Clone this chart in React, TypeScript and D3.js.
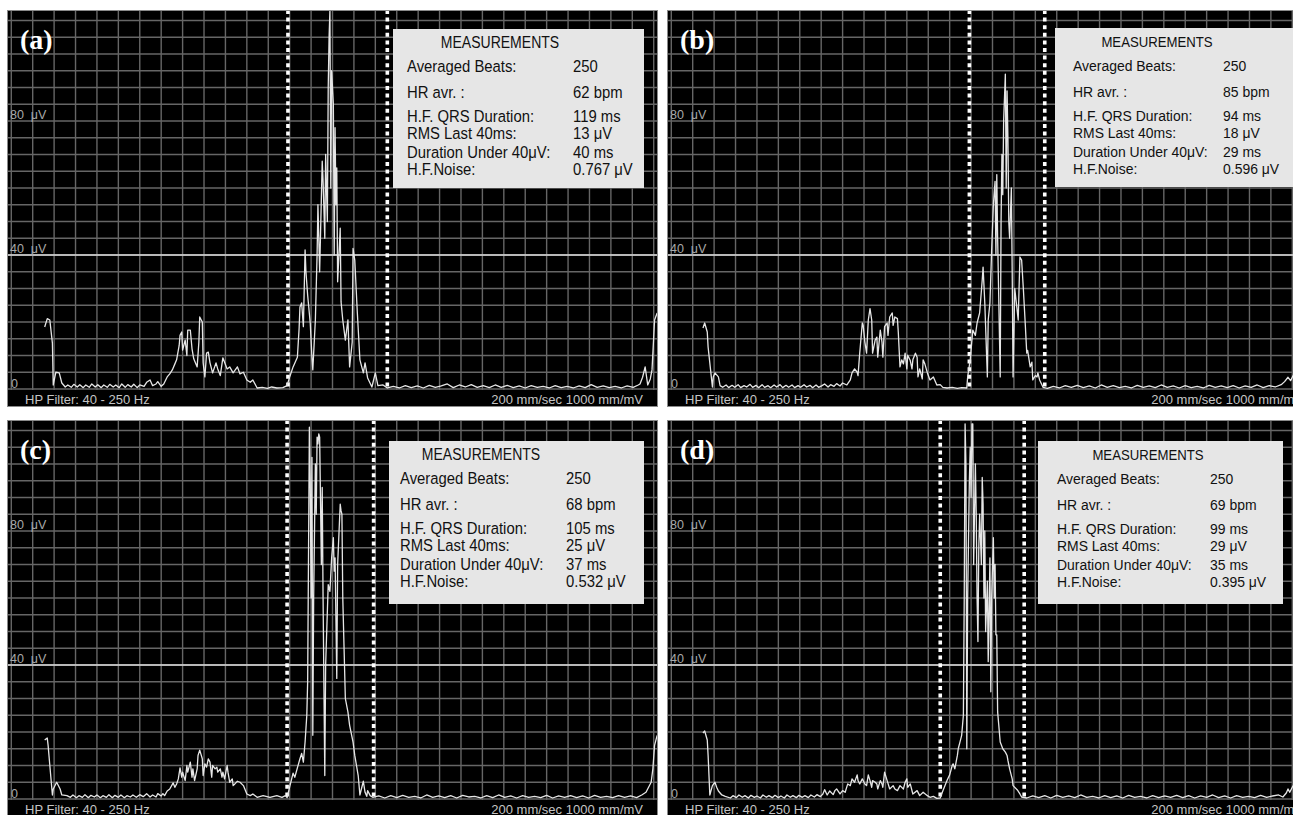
import React from "react";
import * as d3 from "d3";

// signal-averaged ECG, filtered QRS vector magnitude: [time ms, amplitude µV]
const traceA: [number, number][] = [
  [44, 18.5], [47, 21], [50, 20.6], [53, 13.7], [54, 1.2], [57, 5], [61, 4.8], [64, 1.8], [68, 0.6],
  [71, 1.2], [75, 0.5], [78, 1.4], [82, 0.6], [85, 1.3], [89, 0.4], [92, 1.2], [96, 0.5], [99, 1.5],
  [103, 0.6], [106, 1.3], [110, 0.4], [113, 1.2], [117, 0.5], [120, 1.4], [124, 0.6], [127, 1.2],
  [131, 0.4], [134, 1.5], [138, 0.5], [141, 1.3], [145, 0.6], [148, 1.4], [152, 0.4], [155, 1.2],
  [160, 0.8], [163, 2.0], [167, 2.7], [170, 1.0], [174, 1.5], [176, 2.2], [180, 0.8], [183, 1.5],
  [187, 3.6], [190, 4.5], [193, 5.7], [196, 7.5], [198, 8.7], [201, 13], [202, 16], [204, 17],
  [205, 11.6], [208, 14.6], [210, 10], [211, 17.6], [214, 17.6], [216, 12], [218, 9], [222, 6.6],
  [224, 14], [225, 21.5], [228, 20], [229, 7.8], [231, 3.6], [233, 10.7], [235, 11], [237, 7.8],
  [240, 4.8], [244, 7.8], [246, 6], [249, 4], [252, 9.3], [257, 6], [260, 6.6], [264, 4.8],
  [269, 6.6], [272, 4.5], [276, 5], [280, 2.7], [284, 2], [287, 2.7], [292, 0.3], [298, 0.5],
  [304, 0.2], [309, 0.6], [315, 0.3], [322, 0.4], [327, 1], [330, 3.6], [334, 6.6], [339, 9.5],
  [341, 18], [342, 24.5], [344, 25.7], [346, 18.6], [348, 41.5], [349, 35], [351, 28], [354, 19.7],
  [356, 9.5], [357, 5.7], [360, 20.6], [362, 40], [363, 55], [365, 35], [368, 68], [369, 62],
  [371, 45], [372, 70], [374, 50], [375, 90], [376, 105], [377, 113], [378, 60], [379, 95],
  [381, 85], [382, 40], [383, 78], [384, 55], [385, 66], [386, 32], [389, 48], [390, 26],
  [392, 20.6], [395, 14.6], [398, 20.6], [400, 6.6], [403, 14], [404, 42], [406, 38.5], [409, 22.7],
  [412, 8.7], [416, 4.8], [418, 7.8], [421, 3.3], [426, 0.6], [430, 4.8], [433, 1], [439, 1.2],
  [444, 0.3], [451, 0.8], [458, 0.3], [465, 1.0], [472, 0.4], [479, 0.9], [486, 0.3], [493, 1.1],
  [500, 0.5], [507, 0.9], [514, 1.5], [521, 0.4], [528, 1.2], [535, 0.6], [542, 1.3], [549, 0.5],
  [556, 1.0], [563, 0.4], [570, 1.2], [577, 0.5], [584, 1.1], [591, 0.4], [598, 0.9], [605, 0.3],
  [612, 1.0], [619, 0.5], [626, 0.8], [633, 0.3], [640, 1.0], [647, 0.4], [654, 0.8], [661, 0.3],
  [668, 0.9], [675, 0.4], [682, 1.3], [689, 0.5], [696, 0.9], [703, 0.4], [710, 0.8], [717, 0.3],
  [724, 0.9], [731, 0.5], [737, 1.2], [739, 1.5], [742, 3.5], [745, 6.6], [748, 1.2], [751, 3],
  [753, 5.7], [756, 20.6], [759, 22.7],
];

const traceB: [number, number][] = [
  [42, 18.2], [44, 19.7], [47, 17], [48, 12.5], [53, 0.6], [54, 3.6], [56, 4.8], [60, 3.6], [62, 1],
  [65, 0.5], [69, 1.2], [72, 0.4], [76, 1.1], [79, 0.5], [83, 1.3], [86, 0.4], [90, 1.0], [93, 0.6],
  [97, 1.4], [100, 0.5], [104, 1.1], [107, 0.4], [111, 1.3], [114, 0.5], [118, 1.0], [121, 0.4],
  [125, 1.2], [128, 0.6], [132, 1.3], [135, 0.4], [139, 1.1], [142, 0.5], [146, 1.2], [149, 0.4],
  [153, 1.0], [156, 0.5], [160, 1.3], [163, 0.6], [167, 1.1], [170, 0.4], [174, 1.2], [177, 0.5],
  [181, 1.0], [184, 1.5], [188, 0.6], [191, 1.3], [195, 0.8], [198, 1.6], [202, 0.9], [205, 1.8],
  [210, 1.2], [214, 2.7], [216, 4.8], [219, 6], [222, 5], [223, 4], [225, 10.7], [228, 19.7],
  [229, 19], [231, 14], [233, 10.7], [235, 20.6], [237, 24], [239, 20.6], [240, 10.7], [243, 14.6],
  [245, 15.5], [246, 9.5], [249, 17.6], [251, 14], [252, 9.5], [254, 18.6], [257, 19.7], [258, 16],
  [260, 21.5], [263, 22.7], [264, 19], [266, 21.5], [269, 21], [270, 17], [272, 6.6], [274, 8.7],
  [276, 7.5], [278, 10.7], [280, 6], [281, 10.1], [284, 8.5], [286, 6], [287, 8.7], [290, 10.7],
  [292, 9.5], [293, 3.6], [295, 6], [298, 3], [299, 8.7], [301, 7.5], [304, 4.8], [307, 2.7],
  [311, 3.6], [315, 1.2], [319, 1.3], [322, 0.5], [327, 0.3], [333, 0.5], [339, 0.2], [344, 0.4],
  [350, 0.3], [351, 3.6], [354, 8.7], [357, 17.6], [360, 16], [362, 19.7], [365, 22.7], [368, 32.5],
  [369, 36.4], [371, 25.7], [374, 3.6], [375, 20.6], [377, 25.7], [379, 41.5], [381, 55], [383, 62],
  [384, 40], [385, 64], [386, 45], [389, 3.6], [390, 50], [391, 70], [392, 58], [393, 80], [395, 94],
  [396, 60], [397, 89], [398, 75], [399, 50], [400, 45], [402, 60], [403, 35], [404, 3.6], [406, 30],
  [410, 20.6], [412, 39.4], [414, 38.5], [416, 30], [418, 20.6], [420, 10.7], [421, 11.5], [424, 6.6],
  [426, 8], [427, 2.7], [430, 4], [432, 3.6], [433, 4.8], [435, 2.7], [439, 0.5], [444, 0.2],
  [451, 0.8], [458, 0.3], [465, 1.0], [472, 0.5], [479, 1.1], [486, 0.4], [493, 0.9], [500, 0.3],
  [507, 1.2], [514, 0.5], [521, 1.0], [528, 0.4], [535, 0.8], [542, 0.3], [549, 1.1], [556, 0.5],
  [563, 0.9], [570, 0.4], [577, 1.2], [584, 0.5], [591, 0.9], [598, 0.3], [605, 1.0], [612, 0.4],
  [619, 0.8], [626, 0.3], [633, 1.1], [640, 0.5], [647, 0.9], [654, 0.4], [661, 1.0], [668, 0.3],
  [675, 0.9], [682, 0.5], [689, 1.2], [696, 0.4], [703, 1.0], [710, 0.6], [717, 1.3], [721, 2.2],
  [725, 3.5], [728, 2.5], [732, 4.5],
];

const traceC: [number, number][] = [
  [44, 17.6], [47, 18.2], [48, 16], [50, 10], [53, 1.2], [54, 3], [58, 5], [62, 3], [64, 1.2],
  [70, 1], [74, 0.5], [77, 1.2], [81, 0.4], [84, 1.0], [88, 0.5], [91, 1.3], [95, 0.4], [98, 1.1],
  [102, 0.6], [105, 1.2], [109, 0.4], [112, 1.0], [116, 0.5], [119, 1.3], [123, 0.4], [126, 1.1],
  [130, 0.5], [133, 1.2], [137, 0.4], [140, 1.0], [144, 0.6], [147, 1.2], [151, 0.5], [155, 1.3],
  [159, 0.7], [163, 1.6], [167, 0.6], [170, 1.2], [174, 0.6], [176, 1.6], [180, 0.9], [182, 1.6],
  [184, 1.0], [187, 2.4], [190, 3], [194, 4.8], [196, 3.5], [198, 4.5], [200, 6], [202, 9.3],
  [204, 6.5], [205, 8], [208, 5.5], [210, 10], [211, 8], [214, 11], [216, 6.5], [217, 9], [219, 5.5],
  [222, 9], [223, 13], [225, 14.6], [228, 12], [229, 7], [231, 10.5], [233, 9.5], [235, 12],
  [237, 11], [239, 6.5], [240, 10], [243, 9], [245, 9.5], [246, 8], [249, 9], [251, 6.5], [252, 8],
  [254, 6], [257, 10], [258, 8], [260, 5], [263, 6], [264, 4], [266, 4.5], [269, 5.3], [272, 5],
  [276, 4], [280, 1.5], [284, 1.0], [287, 1.5], [292, 0.5], [299, 1.0], [307, 0.5], [315, 1.0],
  [321, 0.5], [325, 1.0], [327, 0.4], [330, 3.6], [334, 7.7], [336, 6.5], [339, 9.3], [342, 12],
  [344, 13.6], [346, 11], [348, 17], [350, 25], [351, 35], [353, 111], [354, 95], [355, 60],
  [356, 102], [357, 19], [358, 60], [360, 100], [361, 85], [362, 108], [363, 106], [364, 109],
  [365, 108], [367, 70], [368, 93], [369, 60], [371, 7], [372, 40], [375, 64], [377, 62], [379, 72],
  [381, 78], [382, 68], [383, 72], [385, 36], [386, 70], [389, 88], [390, 86], [391, 85], [392, 60],
  [395, 30], [398, 26], [400, 22], [404, 17], [406, 13], [410, 7], [412, 1.2], [416, 5.3], [418, 2],
  [420, 0.8], [421, 2.5], [424, 1], [427, 0.5], [434, 0.9], [441, 0.3], [448, 1.0], [455, 0.4],
  [462, 1.1], [469, 0.5], [476, 0.8], [483, 0.3], [490, 1.2], [497, 0.5], [504, 0.9], [511, 0.4],
  [518, 1.0], [525, 0.3], [532, 1.1], [539, 0.6], [546, 0.8], [553, 0.3], [560, 1.0], [567, 0.4],
  [574, 1.2], [581, 0.5], [588, 0.9], [595, 0.3], [602, 1.0], [609, 0.5], [616, 0.8], [623, 0.4],
  [630, 1.1], [637, 0.3], [644, 0.9], [651, 0.5], [658, 1.0], [665, 0.4], [672, 0.9], [679, 0.3],
  [686, 1.1], [693, 0.5], [700, 0.8], [707, 0.4], [714, 1.0], [721, 0.5], [728, 0.9], [735, 0.4],
  [741, 1.2], [746, 2.0], [749, 3.5], [752, 5], [754, 9], [756, 16], [759, 19],
];

const traceD: [number, number][] = [
  [42, 19.7], [44, 20.3], [47, 17.6], [48, 13], [50, 1.2], [53, 4], [56, 5], [58, 3.5], [60, 2.4],
  [64, 1.2], [68, 0.8], [74, 0.3], [77, 1.0], [81, 0.4], [84, 1.2], [88, 0.5], [91, 1.0], [95, 0.3],
  [98, 1.1], [102, 0.5], [105, 0.9], [109, 0.3], [112, 1.2], [116, 0.5], [119, 1.0], [123, 0.4],
  [126, 1.1], [130, 0.4], [133, 0.9], [137, 0.3], [140, 1.2], [144, 0.5], [147, 1.0], [151, 0.4],
  [154, 1.1], [158, 0.5], [161, 1.0], [165, 0.4], [168, 1.2], [172, 0.6], [175, 1.3], [179, 0.7],
  [182, 1.5], [184, 2.8], [187, 1.2], [190, 2.4], [194, 1.3], [196, 2.5], [198, 3], [202, 1.5],
  [205, 2.5], [208, 2], [211, 4.5], [214, 4], [216, 6], [219, 5], [222, 7.2], [223, 5.5], [225, 4.5],
  [228, 6], [229, 5.5], [231, 4.5], [233, 4], [235, 7.2], [237, 5.5], [239, 3.5], [240, 5.5],
  [243, 5], [245, 4.5], [246, 3], [249, 5.5], [251, 4.5], [252, 3.5], [254, 8], [257, 5.5], [260, 3],
  [264, 4], [266, 3], [269, 2.5], [272, 4], [276, 3], [278, 5], [280, 6], [281, 3.5], [284, 4.5],
  [287, 1.5], [292, 2.5], [295, 1], [299, 2], [304, 1], [307, 0.5], [311, 0.8], [315, 0.2],
  [319, 0.3], [322, 2.4], [327, 5.6], [330, 7.2], [333, 10], [334, 10.5], [336, 9], [339, 13],
  [340, 15], [342, 17], [344, 19], [346, 25], [347, 60], [348, 112], [349, 100], [350, 15], [351, 60],
  [353, 95], [354, 105], [355, 90], [356, 112], [357, 112], [358, 70], [360, 100], [361, 85],
  [362, 60], [363, 47], [364, 75], [365, 85], [367, 70], [368, 96], [369, 88], [370, 60], [371, 80],
  [372, 50], [374, 65], [375, 41], [377, 72], [378, 32], [379, 60], [381, 78], [382, 60], [383, 70],
  [384, 49], [385, 49], [386, 26], [389, 17], [392, 15], [395, 14], [397, 13], [398, 11.5], [400, 9],
  [403, 6], [404, 4], [409, 2.7], [412, 1.5], [414, 0.6], [420, 0.3], [427, 0.9], [434, 0.4],
  [441, 1.0], [448, 0.3], [455, 1.1], [462, 0.5], [469, 0.9], [476, 0.4], [483, 1.2], [490, 0.5],
  [497, 0.8], [504, 0.3], [511, 1.0], [518, 0.4], [525, 0.9], [532, 0.3], [539, 1.1], [546, 0.5],
  [553, 0.8], [560, 0.3], [567, 1.0], [574, 0.4], [581, 0.9], [588, 0.5], [595, 1.1], [602, 0.4],
  [609, 1.0], [616, 0.3], [623, 0.9], [630, 0.5], [637, 1.2], [644, 0.4], [651, 0.9], [658, 0.3],
  [665, 1.0], [672, 0.5], [679, 0.8], [686, 0.4], [693, 1.1], [700, 0.5], [707, 0.9], [714, 1.2],
  [719, 0.6], [723, 1.8], [725, 3], [727, 2], [731, 4],
];

// QRS onset / offset markers (ms)
const markersA = [328, 444];
const markersB = [353, 441];
const markersC = [327, 428];
const markersD = [319, 417];

const measureLabels = [
  "Averaged Beats:",
  "HR avr. :",
  "H.F. QRS Duration:",
  "RMS Last 40ms:",
  "Duration Under 40\u03bcV:",
  "H.F.Noise:",
];
const measuresA = ["250", "62 bpm", "119 ms", "13 \u03bcV", "40 ms", "0.767 \u03bcV"];
const measuresB = ["250", "85 bpm", "94 ms", "18 \u03bcV", "29 ms", "0.596 \u03bcV"];
const measuresC = ["250", "68 bpm", "105 ms", "25 \u03bcV", "37 ms", "0.532 \u03bcV"];
const measuresD = ["250", "69 bpm", "99 ms", "29 \u03bcV", "35 ms", "0.395 \u03bcV"];

const W = 651;
const H = 397;
const BASE = 379;

const panels = [
  { key: "a", letter: "(a)", x: 7, y: 10, trace: traceA, markers: markersA, values: measuresA,
    box: { x: 386, y: 19, w: 251, h: 159, title: 493, label: 400, value: 566, fs: 16.5 } },
  { key: "b", letter: "(b)", x: 667, y: 10, trace: traceB, markers: markersB, values: measuresB,
    box: { x: 388, y: 18, w: 250, h: 159, title: 490, label: 406, value: 556, fs: 15.5 } },
  { key: "c", letter: "(c)", x: 7, y: 420, trace: traceC, markers: markersC, values: measuresC,
    box: { x: 382, y: 21, w: 255, h: 163, title: 474, label: 393, value: 559, fs: 16.5 } },
  { key: "d", letter: "(d)", x: 667, y: 420, trace: traceD, markers: markersD, values: measuresD,
    box: { x: 371, y: 21, w: 245, h: 163, title: 481, label: 390, value: 543, fs: 15.5 } },
];

const titleOffset = 18.5;
const rowOffsets = [43, 68.5, 93, 110, 128.5, 145.5];

function Panel({ p }: { p: (typeof panels)[number] }) {
  const xScale = d3.scaleLinear().domain([0, 760]).range([0, W]);
  const yScale = d3.scaleLinear().domain([0, 40]).range([BASE, 245]);
  const line = d3
    .line<[number, number]>()
    .x((d) => xScale(d[0]))
    .y((d) => yScale(d[1]));
  const gridT = d3.range(5, 760, 25);
  const gridV = d3.range(0, 115, 5);
  const b = p.box;
  const clipId = "clip-" + p.key;
  const uiFont = "'Liberation Sans', Arial, sans-serif";

  return (
    <g transform={`translate(${p.x},${p.y})`}>
      <defs>
        <clipPath id={clipId}>
          <rect x={0} y={0} width={W} height={H} />
        </clipPath>
      </defs>
      <g clipPath={`url(#${clipId})`}>
        <rect x={0} y={0} width={W} height={H} fill="#000" />
        {gridT.map((t) => (
          <line key={"t" + t} x1={xScale(t)} x2={xScale(t)} y1={0} y2={BASE + 1}
            stroke="#666" strokeWidth={1.4} />
        ))}
        {gridV.map((v) => (
          <line key={"v" + v} x1={0} x2={W} y1={yScale(v)} y2={yScale(v)}
            stroke="#666" strokeWidth={1.4} />
        ))}
        <line x1={0} x2={W} y1={yScale(40)} y2={yScale(40)} stroke="#dcdcdc" strokeWidth={1.6} />

        <text x={3} y={yScale(80) - 2} fill="#a8a8a8" fontSize={12.5} fontFamily={uiFont}>80 {"\u00a0\u03bcV"}</text>
        <text x={3} y={yScale(40) - 2} fill="#a8a8a8" fontSize={12.5} fontFamily={uiFont}>40 {"\u00a0\u03bcV"}</text>
        <text x={4} y={BASE - 1} fill="#a8a8a8" fontSize={12.5} fontFamily={uiFont}>0</text>

        {p.markers.map((m) => (
          <line key={"m" + m} x1={xScale(m)} x2={xScale(m)} y1={0} y2={BASE}
            stroke="#fff" strokeWidth={3.6} strokeDasharray="4 3.6" />
        ))}

        <path d={line(p.trace) || ""} fill="none" stroke="#e6e6e6" strokeWidth={1.3}
          strokeLinejoin="round" />

        <rect x={0} y={BASE + 2} width={W} height={H - BASE - 2} fill="#000" />
        <text x={18} y={394} fill="#c4c4c4" fontSize={13} fontFamily={uiFont}>HP Filter: 40 - 250 Hz</text>
        <text x={636} y={394} fill="#c4c4c4" fontSize={13} fontFamily={uiFont} textAnchor="end">
          200 mm/sec 1000 mm/mV
        </text>

        <text x={13} y={39} fill="#fff" fontSize={28} fontWeight="bold"
          fontFamily="'Liberation Serif', 'Times New Roman', serif">{p.letter}</text>

        <rect x={b.x} y={b.y} width={b.w} height={b.h} fill="#e6e6e6" />
        <text transform={`translate(${b.title},${b.y + titleOffset}) scale(0.85,1)`}
          fontSize={b.fs} fontFamily={uiFont} fill="#111" textAnchor="middle">MEASUREMENTS</text>
        {measureLabels.map((lab, i) => (
          <g key={lab}>
            <text transform={`translate(${b.label},${b.y + rowOffsets[i]}) scale(0.9,1)`}
              fontSize={b.fs} fontFamily={uiFont} fill="#111">{lab}</text>
            <text transform={`translate(${b.value},${b.y + rowOffsets[i]}) scale(0.9,1)`}
              fontSize={b.fs} fontFamily={uiFont} fill="#111">{p.values[i]}</text>
          </g>
        ))}
      </g>
      <rect x={0.5} y={0.5} width={W - 1} height={H - 1} fill="none" stroke="#8a8a8a" strokeWidth={1} />
    </g>
  );
}

export default function App() {
  return (
    <svg width={1293} height={815} style={{ position: "absolute", left: 0, top: 0, background: "#fff" }}>
      <rect x={0} y={0} width={1293} height={815} fill="#fff" />
      {panels.map((p) => (
        <Panel key={p.key} p={p} />
      ))}
    </svg>
  );
}
